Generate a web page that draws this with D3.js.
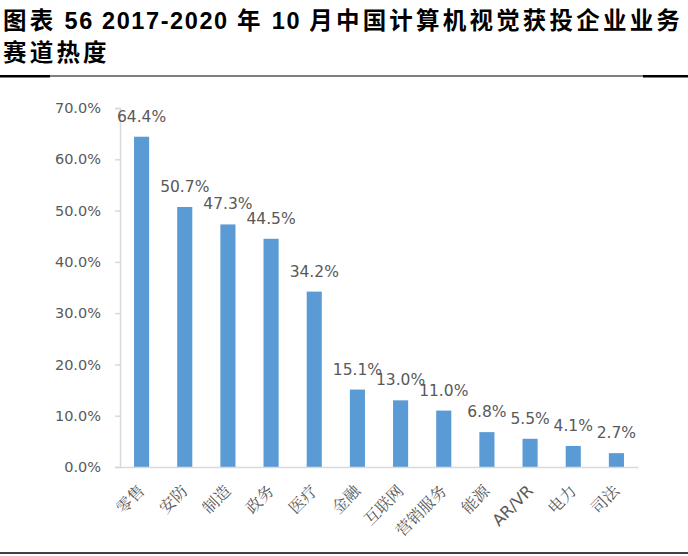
<!DOCTYPE html>
<html><head><meta charset="utf-8">
<script src="https://cdn.jsdelivr.net/npm/d3@7"></script>
<style>body{margin:0;background:#fff}svg{display:block}</style>
</head><body><svg id="c" width="688" height="556"></svg>
<script>
const categories = ["零售","安防","制造","政务","医疗","金融","互联网","营销服务","能源","AR/VR","电力","司法"];
const values = [64.4,50.7,47.3,44.5,34.2,15.1,13.0,11.0,6.8,5.5,4.1,2.7];
const yTicks = [0,10,20,30,40,50,60,70];
const titleLines = ["图表 56 2017-2020 年 10 月中国计算机视觉获投企业业务","赛道热度"];

const svg = d3.select("#c");
const W = 688, H = 556;

// title: split each line into CJK / non-CJK runs for different spacing
const isCJK = ch => /[\u3000-\u9fff\uff00-\uffef]/.test(ch);
function runs(s){
  const out=[]; let cur="", curC=null;
  for(const ch of s){ const c=isCJK(ch); if(curC===null||c===curC){cur+=ch;curC=c;} else {out.push({t:cur,c:curC}); cur=ch; curC=c;} }
  if(cur) out.push({t:cur,c:curC});
  return out;
}
const tt = svg.selectAll("text.title").data(titleLines).join("text")
  .attr("class","title")
  .attr("x",3).attr("y",(d,i)=>29+i*32)
  .attr("font-family","'Liberation Sans','Noto Sans CJK SC',sans-serif")
  .attr("font-weight","bold").attr("font-size",23.5).attr("fill","#000");
tt.selectAll("tspan").data(d=>runs(d)).join("tspan")
  .attr("letter-spacing",r=>r.c?3.2:1.6)
  .text(r=>r.t);

// header rule
svg.append("line").attr("x1",0).attr("x2",W).attr("y1",76).attr("y2",76).attr("stroke","#000").attr("stroke-width",1);
svg.append("rect").attr("x",0).attr("y",75).attr("width",50).attr("height",2.5).attr("fill","#000");
svg.append("rect").attr("x",643).attr("y",75).attr("width",45).attr("height",2.5).attr("fill","#000");
// bottom rule
svg.append("line").attr("x1",0).attr("x2",W).attr("y1",553).attr("y2",553).attr("stroke","#000").attr("stroke-width",1.5);

const x = d3.scaleBand().domain(categories).range([120,638]).paddingInner(0.65).paddingOuter(0.325);
const y = d3.scaleLinear().domain([0,70]).range([467,108]);

const gray = "#595959", axisC = "#d9d9d9";
const numFont = "'DejaVu Sans','Open Sans',sans-serif";

// y axis
const ya = svg.append("g").attr("transform","translate(120,0)")
  .call(d3.axisLeft(y).tickValues(yTicks).tickSize(5).tickPadding(14).tickFormat(d=>d.toFixed(1)+"%"));
ya.select(".domain").attr("stroke",axisC).attr("stroke-width",1.5);
ya.selectAll(".tick line").attr("stroke",axisC).attr("stroke-width",1.5);
ya.selectAll(".tick text").attr("fill",gray).attr("font-family",numFont).attr("font-size",14.5);

// bars
svg.selectAll("rect.bar").data(values).join("rect").attr("class","bar")
  .attr("x",(d,i)=>x(categories[i])).attr("width",x.bandwidth())
  .attr("y",d=>y(d)).attr("height",d=>y(0)-y(d)).attr("fill","#5b9bd5");

// x axis
const xa = svg.append("g").attr("transform","translate(0,467)")
  .call(d3.axisBottom(x).tickSize(0).tickPadding(0));
xa.select(".domain").attr("stroke",axisC).attr("stroke-width",1.5);
xa.selectAll(".tick text")
  .attr("fill",gray).attr("font-size",16)
  .attr("font-family","'DejaVu Sans','Noto Serif CJK SC','Noto Sans CJK SC',sans-serif")
  .attr("text-anchor","end")
  .attr("dy",0)
  .attr("transform","translate(4,25) rotate(-45)");

// value labels
svg.selectAll("text.val").data(values).join("text").attr("class","val")
  .attr("x",(d,i)=>x(categories[i])+x.bandwidth()/2)
  .attr("y",d=>y(d)-15)
  .attr("text-anchor","middle").attr("fill",gray)
  .attr("font-family",numFont).attr("font-size",15.5)
  .text(d=>d.toFixed(1)+"%");
</script></body></html>
